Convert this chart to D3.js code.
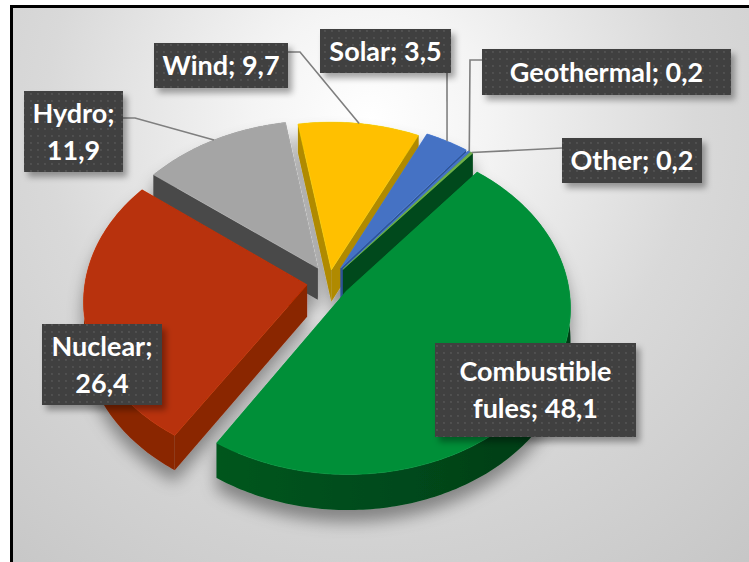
<!DOCTYPE html>
<html><head><meta charset="utf-8"><script src="https://cdn.jsdelivr.net/npm/d3@7"></script>
<style>html,body{margin:0;padding:0;background:#fff}svg{display:block}text{font-family:Lato,"Open Sans",sans-serif;font-weight:700}</style></head>
<body><svg id="c" width="749" height="562"></svg>
<script>
const categories=["Combustible fules","Nuclear","Hydro","Wind","Solar","Geothermal","Other"];
const values=[48.1,26.4,11.9,9.7,3.5,0.2,0.2];
const labelLines=[["Combustible","fules; 48,1"],["Nuclear;","26,4"],["Hydro;","11,9"],["Wind; 9,7"],["Solar; 3,5"],["Geothermal; 0,2"],["Other; 0,2"]];
const topColors=["#008f39","#b83008","#a5a5a5","#ffc000","#4472c4","#4472c4","#70ad47"];
const wallColors=["url(#gw)","#8a2606","#4a4a4a","#b08a00","#2f5597","#2f5597","#00491c"];
const explosion=[0.095,0.1,0.1,0.075,0.1,0.1,0.1];
const drawOrder=[2,3,4,5,6,1,0];
const labelBoxes=[[435,343,201,94],[42,324,120,81],[24,91,99,81],[154,43,134,45],[320,29,131,44],[482,49,249,46],[562,138,140,45]];
const leaderBends=[null,null,[[123,118],[135,118]],[[288,52],[300,52]],[[447,73]],[[482,60],[470,60]],[[562,148]]];

const W=749,H=562,CX=329,CY=282,RX=222,RY=164,K=0.095,DEPTH=32;
const svg=d3.select("#c"),defs=svg.append("defs");
const bg=defs.append("radialGradient").attr("id","bg").attr("gradientUnits","userSpaceOnUse").attr("cx",370).attr("cy",120).attr("r",590);
[[0,"#ffffff"],[0.2,"#f4f4f4"],[0.55,"#d9d9d9"],[1,"#c6c6c6"]].forEach(s=>bg.append("stop").attr("offset",s[0]).attr("stop-color",s[1]));
const gw=defs.append("linearGradient").attr("id","gw").attr("x1",0).attr("x2",1).attr("y1",0).attr("y2",0);
[[0,"#00561f"],[0.5,"#004a1b"],[1,"#003a14"]].forEach(s=>gw.append("stop").attr("offset",s[0]).attr("stop-color",s[1]));
const pat=defs.append("pattern").attr("id","dots").attr("width",7).attr("height",7).attr("patternUnits","userSpaceOnUse");
pat.append("rect").attr("width",7).attr("height",7).attr("fill","#3f3f3f");
pat.append("circle").attr("cx",3).attr("cy",3).attr("r",0.9).attr("fill","#585858");
const fl=defs.append("filter").attr("id","ls").attr("x","-20%").attr("y","-20%").attr("width","150%").attr("height","160%");
fl.append("feDropShadow").attr("dx",4).attr("dy",5).attr("stdDeviation",3).attr("flood-color","#000").attr("flood-opacity",0.35);
const fp=defs.append("filter").attr("id","ps").attr("x","-20%").attr("y","-20%").attr("width","140%").attr("height","140%");
fp.append("feDropShadow").attr("dx",0).attr("dy",12).attr("stdDeviation",8).attr("flood-color","#000").attr("flood-opacity",0.38);

svg.append("rect").attr("x",11.5).attr("y",6.5).attr("width",W+20).attr("height",H+20).attr("fill","url(#bg)").attr("stroke","#000").attr("stroke-width",3);

const pie=d3.pie().sort(null).value(d=>d).startAngle(39.5*Math.PI/180).endAngle((39.5+360)*Math.PI/180);
const arcs=pie(values);
const sx=d3.scaleLinear().domain([0,1]).range([0,RX]),sy=d3.scaleLinear().domain([0,1]).range([0,RY]);
function proj(u,v,z){const w=1-K*v;return [CX+sx(u)/w,CY+(sy(v)+z)/w];}
const line=d3.line();
function rim(a,i,ang,z){const e=explosion[i],m=(a.startAngle+a.endAngle)/2;
  return proj(e*Math.sin(m)+Math.sin(ang),-e*Math.cos(m)-Math.cos(ang),z);}
function apex(a,i,z){const e=explosion[i],m=(a.startAngle+a.endAngle)/2;return proj(e*Math.sin(m),-e*Math.cos(m),z);}
function arcPts(a,i,z){const n=Math.max(2,Math.ceil((a.endAngle-a.startAngle)*60));
  return d3.range(n+1).map(t=>rim(a,i,a.startAngle+(a.endAngle-a.startAngle)*t/n,z));}

const pg=svg.append("g").attr("filter","url(#ps)");
drawOrder.forEach(i=>{const a=arcs[i],g=pg.append("g");
  const top=arcPts(a,i,0),bot=arcPts(a,i,DEPTH);
  const A=apex(a,i,0),B=apex(a,i,DEPTH);
  [[A,top[0],bot[0],B],[A,top[top.length-1],bot[bot.length-1],B]].forEach(q=>
    g.append("path").attr("d",line(q)+"Z").attr("fill",wallColors[i]==="url(#gw)"?"#00491c":wallColors[i]));
  g.append("path").attr("d",line(top.concat(bot.slice().reverse()))+"Z").attr("fill",wallColors[i]);
  g.append("path").attr("d",line([A].concat(top))+"Z").attr("fill",topColors[i]).attr("stroke",d3.color(topColors[i]).brighter(0.4)).attr("stroke-width",0.5);
});

const lg=svg.append("g").attr("fill","none").attr("stroke","#7f7f7f").attr("stroke-width",1.6);
leaderBends.forEach((b,i)=>{if(!b)return;const a=arcs[i],m=(a.startAngle+a.endAngle)/2;
  const end=rim(a,i,m,0);
  lg.append("path").attr("d",line(b.concat([end])));});

labelBoxes.forEach((b,i)=>{const g=svg.append("g");
  g.append("rect").attr("x",b[0]).attr("y",b[1]).attr("width",b[2]).attr("height",b[3]).attr("fill","url(#dots)").attr("filter","url(#ls)");
  const L=labelLines[i],lh=37,y0=b[1]+b[3]/2-(L.length-1)*lh/2+9.5;
  L.forEach((t,j)=>g.append("text").attr("x",b[0]+b[2]/2).attr("y",y0+j*lh).attr("text-anchor","middle").attr("font-size",27).attr("fill","#fff").text(t));
});
</script></body></html>
